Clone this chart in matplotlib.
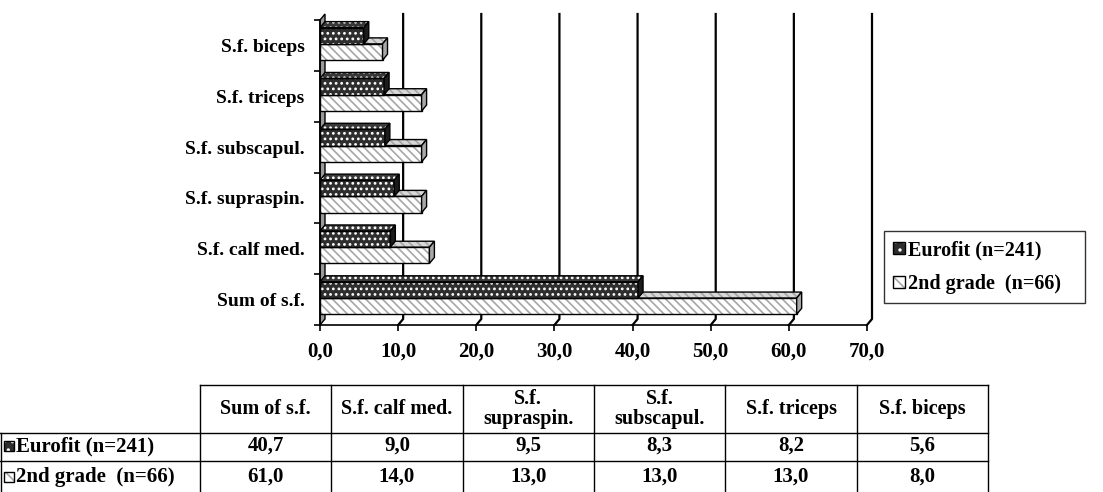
import numpy as np
import matplotlib.pyplot as plt
from matplotlib.patches import Polygon, Patch, Rectangle
from matplotlib.ticker import FixedLocator

plt.rcParams['font.family'] = 'Liberation Serif'
plt.rcParams['font.weight'] = 'bold'
plt.rcParams['hatch.linewidth'] = 1.2

# ---- data ----
categories = ["Sum of s.f.", "S.f. calf med.", "S.f. supraspin.",
              "S.f. subscapul.", "S.f. triceps", "S.f. biceps"]
col_labels = ["Sum of s.f.", "S.f. calf med.", "S.f.\nsupraspin.",
              "S.f.\nsubscapul.", "S.f. triceps", "S.f. biceps"]
eurofit = [40.7, 9.0, 9.5, 8.3, 8.2, 5.6]
second_grade = [61.0, 14.0, 13.0, 13.0, 13.0, 8.0]
series_names = ["Eurofit (n=241)", "2nd grade  (n=66)"]
x_ticks = [0, 10, 20, 30, 40, 50, 60, 70]


def fmt(v):
    return f"{v:.1f}".replace('.', ',')


W, H = 1103, 492
fig = plt.figure(figsize=(W / 100, H / 100), dpi=100)
ax = fig.add_axes([320 / W, 1 - 325 / H, 547 / W, 305 / H])
ax.set_xlim(0, 70)
ax.set_ylim(-0.5, 5.5)

# depth of the fake 3d effect, in data units (about 5px right, 6px up)
DX = 5 * 70 / 547
DY = 6 * 6 / 305

# back wall gridlines, bent down to the front axis
for k in x_ticks[1:]:
    ax.plot([k, k + DX, k + DX], [-0.5, -0.5 + DY, 5.5 + DY],
            color='black', lw=1.6, clip_on=False, zorder=1)

# left wall
ax.add_patch(Polygon([(0, -0.5), (DX, -0.5 + DY), (DX, 5.5 + DY), (0, 5.5)],
                     closed=True, fc='#9a9a9a', ec='black', lw=1.0,
                     clip_on=False, zorder=1.5))

ypos = np.arange(len(categories))
BH = 0.32


def bar3d(values, centers, front, top, side, hatch, hcol, z):
    # front faces through barh, hatch drawn with its own colour first
    ax.barh(centers, values, height=BH, color=front, edgecolor=hcol,
            hatch=hatch, lw=0, zorder=z)
    ax.barh(centers, values, height=BH, fill=False, edgecolor='black',
            lw=1.0, zorder=z + 0.2)
    for v, c in zip(values, centers):
        y0, y1 = c - BH / 2, c + BH / 2
        t = [(0, y1), (v, y1), (v + DX, y1 + DY), (DX, y1 + DY)]
        s = [(v, y0), (v + DX, y0 + DY), (v + DX, y1 + DY), (v, y1)]
        ax.add_patch(Polygon(t, closed=True, fc=top, ec=hcol, hatch=hatch,
                             lw=0, clip_on=False, zorder=z))
        ax.add_patch(Polygon(t, closed=True, fill=False, ec='black',
                             lw=1.0, clip_on=False, zorder=z + 0.2))
        ax.add_patch(Polygon(s, closed=True, fc=side, ec='black',
                             lw=1.0, clip_on=False, zorder=z + 0.2))


bar3d(second_grade, ypos - 0.13, 'white', '#d8d8d8', '#a8a8a8',
      '\\\\\\\\', '#a6a6a6', 3)
bar3d(eurofit, ypos + 0.19, '#2e2e2e', '#383838', '#1c1c1c',
      '...', 'white', 4)

# axes styling
for sp in ['top', 'right']:
    ax.spines[sp].set_visible(False)
ax.spines['left'].set_linewidth(1.2)
ax.spines['bottom'].set_linewidth(1.2)
ax.spines['left'].set_zorder(6)
ax.spines['bottom'].set_zorder(6)

ax.set_xticks(x_ticks)
ax.set_xticklabels([fmt(v) for v in x_ticks], fontsize=15)
ax.tick_params(axis='x', direction='out', length=4, width=1.2, pad=8)

ax.yaxis.set_major_locator(FixedLocator(np.arange(-0.5, 6, 1.0)))
ax.yaxis.set_minor_locator(FixedLocator(ypos))
ax.set_yticklabels([], minor=False)
ax.set_yticklabels(categories, minor=True, fontsize=14)
ax.tick_params(axis='y', which='major', direction='out', length=4, width=1.2)
ax.tick_params(axis='y', which='minor', length=0, pad=11)

# legend
h_eu = (Patch(fc='#2e2e2e', ec='white', hatch='..', lw=0),
        Patch(fill=False, ec='black', lw=1.0))
h_sg = (Patch(fc='white', ec='#a6a6a6', hatch='\\\\', lw=0),
        Patch(fill=False, ec='black', lw=1.0))
leg = fig.legend([h_eu, h_sg], series_names, loc='upper left',
                 bbox_to_anchor=(884 / W, 1 - 299 / H, 201 / W, 68 / H),
                 mode='expand', borderaxespad=0, fontsize=14.5,
                 frameon=True, fancybox=False, handlelength=0.6,
                 handleheight=0.6, handletextpad=0.15, labelspacing=0.7,
                 borderpad=0.45)
leg.get_frame().set_edgecolor('black')
leg.get_frame().set_linewidth(1.0)

# data table under the chart
ov = fig.add_axes([0, 0, 1, 1])
ov.set_xlim(0, W)
ov.set_ylim(H, 0)
ov.axis('off')

col_edges = np.linspace(200, 988, len(col_labels) + 1)
row_edges = [385, 433, 461, 495]
lw_t = 1.0

ov.plot([col_edges[0], col_edges[-1]], [row_edges[0]] * 2, color='black', lw=lw_t)
for y in row_edges[1:3]:
    ov.plot([0, col_edges[-1]], [y, y], color='black', lw=lw_t)
for x in col_edges:
    ov.plot([x, x], [row_edges[0], row_edges[-1]], color='black', lw=lw_t)
ov.plot([0.5, 0.5], [row_edges[1], row_edges[-1]], color='black', lw=lw_t)

for j, lab in enumerate(col_labels):
    cx = (col_edges[j] + col_edges[j + 1]) / 2
    ov.text(cx, (row_edges[0] + row_edges[1]) / 2, lab, ha='center',
            va='center', fontsize=14.5, linespacing=0.95)

rows = [eurofit, second_grade]
icons = [('#2e2e2e', 'white', '..'), ('white', '#a6a6a6', '\\\\')]
for i, (name, vals) in enumerate(zip(series_names, rows)):
    cy = (row_edges[i + 1] + row_edges[i + 2]) / 2 - 1
    fc, hc, hat = icons[i]
    ov.add_patch(Rectangle((4, cy - 5), 10, 10, fc=fc, ec=hc, hatch=hat, lw=0))
    ov.add_patch(Rectangle((4, cy - 5), 10, 10, fill=False, ec='black', lw=1.0))
    ov.text(16, cy, name, ha='left', va='center', fontsize=15)
    for j, v in enumerate(vals):
        cx = (col_edges[j] + col_edges[j + 1]) / 2
        ov.text(cx, cy, fmt(v), ha='center', va='center', fontsize=15)

fig.savefig('out.png', dpi=100)
